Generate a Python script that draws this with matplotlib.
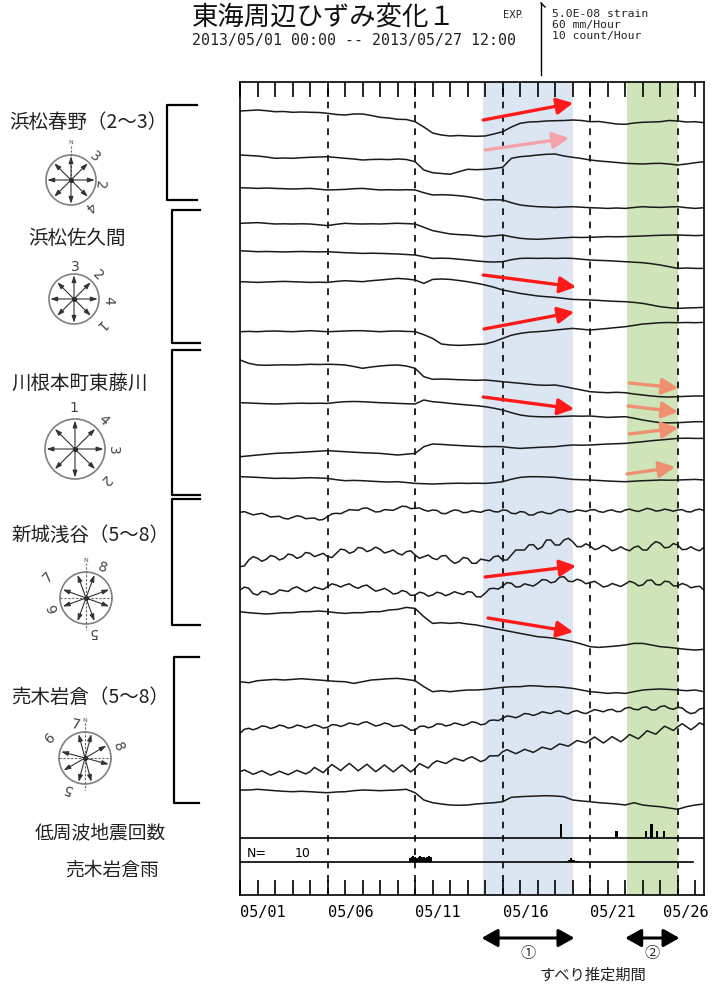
import numpy as np
import matplotlib.pyplot as plt
import matplotlib.transforms as mtransforms
from matplotlib.patches import Circle

plt.rcParams['font.family'] = ['Noto Sans CJK JP', 'DejaVu Sans']

# strain traces: deviation from the first reading, in plot pixels (72 px = 5.0E-08 strain), up = positive
# 12-hourly from 05/01 00:00 to 05/27 12:00 (6-hourly for the noisy channels)
haruno_a = [0, 0.5, 1, 0.3, -0.7, -0.5, -1.3, -1, -1.3, -1.5, -2.3, -3.5, -4, -3, -3, -4.5, -6.3, -7, -8.3, -8.5,
            -10.7, -16, -22, -24, -25, -24.5, -25, -25.3, -25, -23, -20.7, -16, -12.3, -11, -10.7, -10, -9.7, -9.5,
            -9, -9.5, -10.7, -10.5, -11.7, -13, -13.3, -12, -11.3, -11, -10.7, -9.5, -10, -11, -10.7, -11.7]
haruno_b = [0, -0.5, -1, -2, -3.3, -3, -3.3, -2.7, -2.3, -2, -1.7, -2.5, -3.3, -4, -5, -4.5, -4.3, -4.6, -4, -4.5,
            -6.7, -15, -17.7, -18.5, -19.3, -16.7, -14.3, -14.7, -14.3, -13.5, -12.3, -3.3, -1.7, -1, 0, 0.7, 1, -1,
            -2.3, -3.5, -5, -6, -6.7, -7.5, -8.3, -8.7, -9, -8.5, -8.3, -9, -10, -9, -7.7, -6.7]
haruno_c = [0, -0.3, -0.7, -0.3, -0.7, -1, -1.3, -1, -0.7, -1.5, -2.3, -2, -1.7, -1, -0.7, -1.5, -2.3, -2, -2.3, -2,
            -2.3, -5, -7.3, -7, -7.3, -8, -9, -10.5, -12.3, -12, -12.3, -15, -17.3, -18.3, -19, -19.3, -19.7, -19.3,
            -19, -19.5, -20, -20.3, -20.7, -20.3, -20.7, -19.8, -19, -19.5, -19.7, -19.3, -19, -20, -20.7, -20]
sakuma_a = [0, 0.3, 0.7, 0, -0.7, -0.5, -0.7, -0.5, -0.7, -1.5, -2.3, -1, 0, -0.5, -0.7, -0.5, -0.7, -0.3, 0, -0.3,
            -0.7, -4, -7.3, -9, -10.7, -11.3, -11.7, -12.5, -13.3, -12.5, -11.7, -13.5, -15, -15.7, -16, -15.5, -15,
            -14.5, -14, -14.2, -14, -13.7, -13.3, -13.5, -13.3, -13, -12.7, -12.3, -12, -11.8, -11.7, -12, -12.3, -12]
sakuma_b = [0, -0.5, -1, -0.8, -1, -1.2, -1, -0.8, -1, -1.2, -1, -1.5, -2, -2.3, -2.7, -2.5, -2.7, -3, -3.3, -3.8,
            -4.3, -6, -7.7, -7.5, -7.7, -8.5, -9.3, -10.2, -11, -11.3, -11, -9, -7.7, -7.5, -7.7, -7.5, -7.7, -7.5,
            -7.7, -8.5, -9.3, -9.7, -10, -10.5, -11, -11.5, -12, -13, -14.3, -16, -17.7, -17.3, -17.7, -17.7]
sakuma_c = [0, -0.3, -0.7, -0.3, 0, 0.3, 0, -0.3, -0.7, -0.5, -0.7, 0.3, 1, 0.5, 0, 1, 1.7, 2.5, 3.3, 2.7,
            1.7, -1.7, 2.3, 2.7, 2.3, 1.2, 0, -1.5, -3.3, -5.5, -8.3, -10, -11.7, -13, -14.3, -15, -15.7, -16.7,
            -17.7, -18, -18.3, -18.7, -19.3, -19.7, -20, -20.7, -21.7, -23.3, -25, -26, -26.7, -26.3, -26, -25.7]
sakuma_d = [0, 0.3, 0, 0.5, 0.7, 0.3, 0, 0.5, 1, 0.5, 0, 0.3, 0.7, 1, 1, 0.5, 0, 0.5, 0.7, 0.3,
            0, -3, -6.7, -12.3, -13.3, -13.7, -13.3, -12.8, -12.3, -10, -6.7, -3.5, -1.7, -0.5, 0, 0.7, 1.7, 2.5,
            3.3, 2.5, 1.7, 2.5, 3.3, 4.2, 5, 6.3, 7.7, 8.3, 9, 9.2, 9, 9.2, 9, 9.3]
kawane_a = [0, -3.3, -5, -5.3, -5, -4.8, -5, -4.7, -4.3, -4.5, -4.3, -4.5, -5, -6.5, -8.3, -7, -6, -5.3, -5, -6,
            -8.3, -16.7, -19.3, -19, -19.3, -19.7, -20, -20.3, -20, -20.8, -21.7, -22.5, -23.3, -24.2, -25, -25.3,
            -25, -26.5, -28.3, -30, -31.7, -32.3, -32.7, -32.3, -32.7, -34, -35, -36, -36.7, -37, -36.7, -36.3, -36, -36]
kawane_b = [0, -0.3, -0.7, -1, -1.3, -1, -0.7, -0.5, -0.7, -0.5, -0.7, 0.3, 1, 1.2, 1, 0.5, 0, -0.3, -0.7, -1,
            -1.3, 2.7, 1, 0.3, -0.7, -1.5, -2.3, -3, -4, -5.5, -7.3, -10, -12.3, -13.5, -14, -14.2, -14, -13.7,
            -13.3, -13.5, -13.3, -14, -14.7, -14.3, -14, -15.5, -17.3, -18.7, -20, -20.2, -20, -19.5, -19, -19]
kawane_c = [0, 0.8, 1.7, 2.5, 3.3, 3.7, 4, 4.5, 5, 5.5, 6, 5.5, 5, 4.5, 4, 3.7, 3.3, 2.5, 1.7, 2.5,
            3.3, 10, 12.7, 12.3, 11.7, 11.2, 10.7, 10.3, 10, 10.2, 10, 9, 8.3, 8.8, 9.3, 9.7, 10, 11, 11.7, 11.5,
            11.7, 12.2, 12.7, 13, 13.3, 14.2, 15, 16, 16.7, 17.5, 18.3, 18.5, 18.3, 18.3]
kawane_d = [0, -0.3, -0.7, -1.2, -1.7, -1.5, -1.7, -1.3, -1, -1.3, -1.7, -3, -4, -3.7, -4, -4.5, -5, -5.3, -5, -5.8,
            -6.7, -7, -7.3, -7, -6.7, -6.5, -6.7, -6.5, -6.7, -6, -5, -2.5, -0.7, 0, 0, -0.3, -0.7, -1.7, -2.7, -3,
            -3.3, -3.8, -4.3, -4.7, -5, -4.5, -4, -3.7, -3.3, -3.5, -3.3, -3, -2.7, -3.3]
shinshiro_a = [0, 0.7, -1, -2.6, -1.7, -1.0, -2.7, -4.7, -4.3, -4.0, -6, -6.7, -5, -3.5, -4.3, -6.4, -6, -5.7, -7.7,
               -7.2, -4.3, -1.5, -1, -1.4, 0.7, 2.7, 2.3, 2.0, 4, 4.4, 2.3, 0.3, 0.7, 2.7, 2.3, 2.0, 4, 6.1, 5.7, 3.7,
               4, 4.4, 2.3, 1.1, 2.3, 1.9, -1, -1.4, 0.7, 2.4, 1.7, -0.4, 0, 1.6, 0.7, 0, 1.7, 2.4, 0.7, 0.3, 2.3,
               1.9, -1, -1.4, 0.7, 0.2, -2.7, -2.7, -0.3, 0.6, -1, -1.4, 0.7, 2.7, 2.3, 0.3, 0.7, 2.4, 1.7, 0.8, 2.3,
               2.7, 0.7, 0, 1.7, 2.4, 0.7, 0.3, 2.3, 3.2, 1.7, 0.8, 2.3, 3.9, 3, 1.2, 1.7, 3.2, 2.3, 1.1, 2.3, 2.7,
               0.7, 0.3, 2.3, 3.2, 1.7]
shinshiro_b = [-6.7, -5.9, 0, 3.4, 1.7, -1.3, 0.7, 4.5, 3.3, 0, 1.7, 5.9, 5, 1.7, 3.3, 7.5, 6.7, 3.4, 5, 6.7, 3.3,
               2.5, 6.7, 10.9, 10, 6.7, 8.3, 12.5, 11.7, 8.4, 10, 12.9, 10.7, 7, 8.3, 10, 6.7, 5, 8.3, 9.2, 5, 1.7,
               3.3, 5, 1.7, 0.4, 4, 4.5, 0, -3.4, -1.7, 2.5, 1.7, -3.3, -3.3, 0.9, 0, -0.9, 3.3, 4.2, 0, 0, 5, 10,
               10, 10, 15, 15.4, 10.7, 12.9, 20, 20, 15, 15, 20, 21.7, 18.3, 13.3, 13.3, 16.2, 14, 10.4, 11.7, 14.7,
               12.7, 9.2, 10.7, 13.2, 10.7, 9.2, 12.7, 13.9, 10, 10, 15, 18.4, 16.7, 12.2, 12.7, 16.4, 15, 10.4,
               10.7, 13.2, 10.7, 9.2, 12.7]
shinshiro_c = [0, 2.9, 1.7, -3.7, -5, -1.4, -1.7, -4.5, -3.3, 0, -0.7, -1.5, 1.7, 3.2, 0.7, -1.7, 0, 2.9, 1.7, 0.5,
               3.3, 6.2, 5, 3, 5, 6.2, 3.3, 1.7, 4, 4.9, 1.7, -1.2, 0, 1.7, -0.7, -4, -3.3, -0.5, -1.7, -5.4, -5,
               -2.2, -3.3, -6.2, -5, -2.2, -3.3, -5.7, -4, -1.7, -3.3, -4.5, -1.7, -2.2, -6.7, -7, -3.3, 1.2, 1.7,
               0.9, 4, 7.4, 6.7, 3, 3.3, 6.2, 5, 3.9, 6.7, 10.4, 10, 7.2, 8.3, 12.8, 13.3, 8.8, 8.3, 10.8, 9.3, 6.3,
               7.3, 8.7, 6, 3, 4, 6.5, 5, 3.5, 6, 8.7, 7.3, 4.2, 5, 9.5, 10, 5.5, 5, 8.7, 8.3, 4.2, 4, 6.5, 5, 2.2,
               3.3, 3.7, 0]
shinshiro_d = [0, -1, -1.7, -2.3, -1.7, -1, -1, 0, 0, 0.7, 0, -1, -1.7, -1, -1, 0, 0, 1.7, 2.3, 4.3,
               3.3, -5, -11.7, -11, -11.7, -11, -12.3, -13.3, -15, -16.7, -18.3, -20, -21.7, -23.3, -25, -25.7,
               -26.7, -28.3, -30, -32.3, -35, -35.7, -35, -34.3, -33.3, -31.7, -31.7, -33.3, -35, -35.7, -36.7,
               -37.7, -38.3, -37.7]
urugi_a = [0, -1, 1, 1.7, 2.3, 1.7, 2.3, 3, 2.3, 1.7, 1, 0.3, 0, -1.7, 0, 1.7, 2.3, 3, 3.3, 2.3,
           1, -5, -10, -9, -10, -9, -8.3, -8.3, -7.7, -6.7, -5.7, -5, -5, -4, -4.3, -5, -5, -5.7, -6.7, -8.3,
           -10, -10.7, -11.7, -11, -11.7, -10, -8.3, -7.7, -7.3, -7.7, -8.3, -9, -8.3, -10]
urugi_b = [-5, -1, 0, -1.5, 0, 2.4, 1.7, -0.2, 1, 3.2, 2.3, 0.2, 1, 3.2, 2.3, 0.5, 1.7, 3.5, 2.3, 0.2, 1, 3.7, 3.3,
           1.8, 3.3, 5.3, 4.3, 3.5, 5.7, 6.5, 4.3, 2.3, 3.3, 5.3, 4.3, 1.8, 2.3, 3.2, 1, -1.9, -1.7, 1.8, 2.3, 0.5,
           1.7, 4.5, 4.3, 2.3, 3.3, 5.3, 4.3, 2.8, 4.3, 6.5, 5.7, 3.5, 4.3, 7.8, 8.3, 7.7, 10, 12.4, 11.7, 10.5,
           12.3, 14.8, 14.3, 12.8, 14.3, 16.5, 15.7, 14.7, 16.7, 17.4, 15, 14.4, 16.7, 17.7, 15.7, 14.7, 16.7,
           18.7, 17.7, 16.5, 18.3, 19, 16.7, 16.9, 20, 21, 19, 18.5, 21, 21.2, 18.3, 18.5, 21.7, 22.4, 20, 19, 21,
           20.4, 16.7, 14.7, 15.7, 19.4, 20]
urugi_c = [0, 1.8, -0.4, -2.6, -0.9, 1.0, -1.3, -3.5, -1.7, 0.5, -1.3, -3.0, -0.9, 1.4, -0.4, -2.2, 0, 4.3, 1.7,
           -1.0, 3.3, 7.2, 4.2, 1.1, 5, 8.3, 4.6, 0.9, 4.2, 7.5, 3.7, 0, 3.3, 6.8, 3.3, -0.2, 3.3, 6.8, 3.3, -0.2,
           3.3, 8.1, 5.8, 3.6, 8.3, 10.9, 9.6, 8.2, 10.8, 13.4, 12.1, 10.7, 13.3, 14.9, 12.5, 10.1, 11.7, 15.8,
           15.9, 15.9, 20, 22, 20, 18, 20, 22.4, 20.9, 19.3, 21.7, 24.5, 23.4, 22.2, 25, 27.8, 26.7, 25.5, 28.3,
           31.2, 30, 28.9, 31.7, 34.7, 31.7, 28.7, 31.7, 35.1, 32.5, 29.9, 33.3, 37.2, 35, 32.9, 36.7, 41, 39.2,
           37.5, 41.7, 45.5, 43.4, 41.2, 45, 48, 45, 42, 45, 48.9, 46.7]
urugi_d = [0, 0, 0.7, 0, -0.7, -1.3, -1.7, -1.3, -1.7, -2.3, -2.7, -2, -1.7, -0.7, 0, -0.3, -0.7, -0.3, 0, 0.7,
           -2.7, -10, -12.7, -14, -15, -15.3, -15, -14, -13.3, -12.7, -11.7, -7.3, -6.7, -6.3, -6, -5.7, -6, -6.7,
           -10, -11, -11.7, -12.7, -13.3, -14, -15, -12.7, -15, -16, -16.7, -18, -19.3, -16.7, -15, -14]

stations = ['浜松春野（2～3）', '浜松佐久間', '川根本町東藤川', '新城浅谷（5～8）', '売木岩倉（5～8）']
station_traces = [[haruno_a, haruno_b, haruno_c],
                  [sakuma_a, sakuma_b, sakuma_c, sakuma_d],
                  [kawane_a, kawane_b, kawane_c, kawane_d],
                  [shinshiro_a, shinshiro_b, shinshiro_c, shinshiro_d],
                  [urugi_a, urugi_b, urugi_c, urugi_d]]

# low frequency earthquake counts (day since 05/01, count/hour)
lfe_days = [18.34, 21.5, 23.2, 23.5, 23.8, 24.2]
lfe_counts = [2, 1, 1, 2, 1, 1]
# rain at Urugi Iwakura (day, mm/hour); record ends at day 25.9
rain_days = [9.7, 9.8, 9.9, 10.0, 10.1, 10.2, 10.3, 10.4, 10.5, 10.6, 10.7, 10.8, 10.9,
             18.7, 18.8, 18.9, 19.0, 19.1, 19.2, 19.3]
rain_mm = [3, 4, 5, 4, 3, 4, 5, 4, 4, 3, 4, 5, 4, 1, 2, 3, 2, 1.5, 1, 1]
rain_end = 25.9

slip_periods = [(13.9, 19.0), (22.1, 25.0)]
period_marks = ['①', '②']
tick_days = [0, 5, 10, 15, 20, 25]
tick_labels = ['05/01', '05/06', '05/11', '05/16', '05/21', '05/26']

# layout (figure pixels)
W, H = 723, 988
baselines = [[111, 155, 187.7], [223.3, 250.7, 281.7, 331.7], [360, 402.7, 456.7, 476.7],
             [512.3, 560, 590, 611.7], [681.7, 728.3, 771.7, 790]]
lfe_base, rain_base = 838, 862
px_per_count, px_per_mm = 7.2, 1.2

fig = plt.figure(figsize=(W / 100, H / 100), dpi=100)
ax = fig.add_axes([240 / W, 1 - 895 / H, 464 / W, 813 / H])
ax.set_xlim(0, 26.5)
ax.set_ylim(895, 82)
ov = fig.add_axes([0, 0, 1, 1])
ov.set_xlim(0, W)
ov.set_ylim(H, 0)
ov.axis('off')

# shaded slip periods and 5-day dashed lines
ax.axvspan(*slip_periods[0], color='#dce6f2', lw=0, zorder=0)
ax.axvspan(*slip_periods[1], color='#cfe5b9', lw=0, zorder=0)
for d in tick_days[1:]:
    ax.axvline(d, color='k', lw=1.2, ls=(0, (4, 4)), zorder=1)

for grp_tr, grp_base in zip(station_traces, baselines):
    for vals, base in zip(grp_tr, grp_base):
        t = np.linspace(0, 26.5, len(vals))
        ax.plot(t, base - np.array(vals), color='#1a1a1a', lw=1.1, zorder=2)

# LFE counts and rain
ax.axhline(lfe_base, color='k', lw=1.2, zorder=2)
ax.bar(lfe_days, -np.array(lfe_counts) * px_per_count, bottom=lfe_base, width=0.12,
       color='k', zorder=2)
ax.plot([0, rain_end], [rain_base, rain_base], color='k', lw=1.2, zorder=2)
ax.bar(rain_days, -np.array(rain_mm) * px_per_mm, bottom=rain_base, width=0.1,
       color='k', zorder=2)
ax.text(0.4, 853, 'N=', fontsize=9, va='center', family='DejaVu Sans')
ax.text(3.1, 853, '10', fontsize=9, va='center', family='DejaVu Sans')

# slip direction arrows (day, y)
red_arrows = [((13.89, 120), (19.03, 103), '#ff1a1a'), ((14.0, 150), (18.8, 138), '#f4a3aa'),
              ((13.89, 275), (19.2, 287), '#ff1a1a'), ((13.94, 329), (19.09, 312), '#ff1a1a'),
              ((13.89, 397), (19.09, 409), '#ff1a1a'), ((14.0, 577), (19.2, 566), '#ff1a1a'),
              ((14.17, 618), (19.03, 632), '#ff1a1a'),
              ((22.23, 383), (25.03, 388), '#ef9070'), ((22.17, 406), (25.03, 412), '#ef9070'),
              ((22.23, 434), (25.03, 428), '#ef9070'), ((22.11, 474), (24.86, 467), '#ef9070')]
for (x0, y0), (x1, y1), c in red_arrows:
    ax.annotate('', xy=(x1, y1), xytext=(x0, y0),
                arrowprops=dict(arrowstyle='-|>,head_length=0.7,head_width=0.35', color=c,
                                lw=2.4, shrinkA=0, shrinkB=0, mutation_scale=14), zorder=3)

ax.set_yticks([])
ax.set_xticks(tick_days)
ax.set_xticks(range(27), minor=True)
ax.set_xticklabels(tick_labels, family='DejaVu Sans Mono', fontsize=11)
ax.tick_params(which='both', direction='in', top=True, bottom=True, length=11, width=1.2, pad=7)
for lab in ax.get_xticklabels():
    lab.set_ha('left')
last = ax.get_xticklabels()[-1]
last.set_transform(last.get_transform() + mtransforms.ScaledTranslation(-0.15, 0, fig.dpi_scale_trans))
for s in ax.spines.values():
    s.set_linewidth(1.2)

# slip period arrows under the axis
trans = mtransforms.blended_transform_factory(ax.transData, ov.transData)
for (a, b), mk in zip(slip_periods, period_marks):
    ov.annotate('', xy=(b + 0.1, 938), xytext=(a - 0.1, 938), xycoords=trans, textcoords=trans,
                arrowprops=dict(arrowstyle='<|-|>,head_length=0.8,head_width=0.45', color='k',
                                lw=2.2, shrinkA=0, shrinkB=0, mutation_scale=12), annotation_clip=False)
    ov.text((a + b) / 2, 953, mk, transform=trans, ha='center', va='center', fontsize=11, color='#333')
ov.text(593, 975, 'すべり推定期間', ha='center', va='center', fontsize=11, color='#222')

# title and scale
ov.text(192, 17, '東海周辺ひずみ変化１', ha='left', va='center', fontsize=19, color='#111')
ov.text(192, 41, '2013/05/01 00:00 -- 2013/05/27 12:00', ha='left', va='center', fontsize=10.7,
        family='DejaVu Sans Mono', color='#222')
ov.text(503, 15, 'EXP.', ha='left', va='center', fontsize=7, family='DejaVu Sans', color='#222')
ov.plot([541, 541], [3, 75], color='k', lw=1)
ov.plot([541, 545], [3, 7], color='k', lw=1)
for i, s in enumerate(['5.0E-08 strain', '60 mm/Hour', '10 count/Hour']):
    ov.text(552, 14 + 11 * i, s, ha='left', va='center', fontsize=8.2, family='DejaVu Sans Mono',
            color='#222')

# station names, brackets and sensor roses
name_pos = [(88, 122), (77, 238), (80, 383), (90, 535), (90, 697)]
for name, (x, y) in zip(stations, name_pos):
    ov.text(x, y, name, ha='center', va='center', fontsize=14, color='#222')
ov.text(100, 833, '低周波地震回数', ha='center', va='center', fontsize=13.5, color='#222')
ov.text(112, 870, '売木岩倉雨', ha='center', va='center', fontsize=13.5, color='#222')

brackets = [(167, 197, 105, 200), (172, 200, 210, 343), (172, 200, 350, 495),
            (172, 200, 499, 625), (174, 199, 657, 803)]
for xv, xe, yt, yb in brackets:
    ov.plot([xe, xv, xv, xe], [yt, yt, yb, yb], color='k', lw=1.6, solid_joinstyle='round')

roses = [
    dict(c=(71, 180), r=25, b=range(0, 360, 45), north=True, cross=False,
         lab=[('3', 95, 157, -40), ('2', 100, 185, -95), ('4', 90, 206, -140)]),
    dict(c=(74, 299), r=25, b=range(0, 360, 45), north=False, cross=False,
         lab=[('3', 75, 267, 0), ('2', 98, 275, -45), ('4', 108, 300, -90), ('1', 100, 325, -135)]),
    dict(c=(75, 449), r=30, b=range(0, 360, 45), north=False, cross=False,
         lab=[('1', 74, 408, 0), ('4', 103, 420, -45), ('3', 113, 450, -90), ('2', 105, 480, -135)]),
    dict(c=(86, 598), r=26, b=[20, 70, 110, 160, 200, 250, 290, 340], north=True, cross=True,
         lab=[('8', 103, 568, -20), ('7', 48, 577, 45), ('6', 53, 607, 110), ('5', 93, 632, 180)]),
    dict(c=(85, 758), r=26, b=[15, 60, 105, 165, 195, 240, 285, 345], north=True, cross=True,
         lab=[('7', 76, 725, -10), ('6', 50, 738, 45), ('8', 118, 747, -70), ('5', 67, 788, 160)]),
]
for rs in roses:
    cx, cy = rs['c']
    r = rs['r']
    ov.add_patch(Circle((cx, cy), r, fill=False, ec='#808080', lw=1.2))
    if rs['north']:
        lo = cy + (r + 6 if rs['cross'] else 0)
        ov.plot([cx, cx], [cy - r - 9, lo], color='#666', lw=0.8, ls=(0, (2, 1.5)))
        ov.text(cx, cy - r - 12, 'N', ha='center', va='center', fontsize=4.5, color='#555',
                family='DejaVu Sans')
    if rs['cross']:
        ov.plot([cx - r, cx + r], [cy, cy], color='#666', lw=0.8, ls=(0, (2, 1.5)))
    for bdeg in rs['b']:
        a = np.deg2rad(bdeg)
        ov.annotate('', xy=(cx + 0.95 * r * np.sin(a), cy - 0.95 * r * np.cos(a)), xytext=(cx, cy),
                    arrowprops=dict(arrowstyle='-|>,head_length=0.45,head_width=0.15', color='#333',
                                    lw=0.8, shrinkA=0, shrinkB=0, mutation_scale=9))
    ov.plot([cx], [cy], 'o', color='k', ms=2.5)
    for s, x, y, rot in rs['lab']:
        ov.text(x, y, s, ha='center', va='center', rotation=rot, rotation_mode='anchor',
                fontsize=10, color='#444', family='DejaVu Sans')

fig.savefig('out.png', dpi=100)
